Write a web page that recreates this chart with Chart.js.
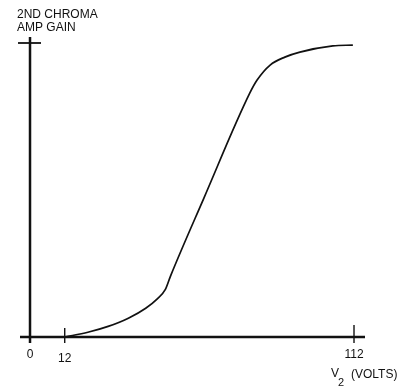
<!DOCTYPE html>
<html lang="en">
<head>
    <meta charset="UTF-8">
    <title>2nd Chroma Amp Gain</title>
    <style>
        body {
            margin: 0;
            padding: 0;
            background: #ffffff;
        }
        #wrap {
            width: 416px;
            height: 388px;
        }
    </style>
    <script src="https://cdn.jsdelivr.net/npm/chart.js"></script>
</head>
<body>
    <div id="wrap"><canvas id="gain-chart" width="416" height="388"></canvas></div>

    <script>
        // curve: V2 (volts) vs. gain (0..100 = axis top)
        const voltage = [12, 20, 27, 34, 40, 44, 46.8, 48.6, 60, 76.0, 78.5, 83.0, 88.1, 93.3, 104.7, 111.6];
        const gain = [0, 1.6, 3.6, 6.4, 9.8, 13.0, 16.2, 20.8, 47.0, 83.0, 87.4, 92.5, 95.2, 96.9, 99.0, 99.3];
        const xTicks = [0, 12, 112];
        const yTop = 100;

        const ink = '#111111';
        const font = '12px "Liberation Sans", Arial, sans-serif';

        // axes, tick marks and labels, drawn from the chart's own scales
        const axesPlugin = {
            id: 'axesPlugin',
            beforeDatasetsDraw(chart) {
                const ctx = chart.ctx;
                const x = chart.scales.x;
                const y = chart.scales.y;
                const area = chart.chartArea;
                const x0 = x.getPixelForValue(0);
                const y0 = y.getPixelForValue(0);

                ctx.save();
                ctx.strokeStyle = ink;
                ctx.lineCap = 'butt';

                // y axis
                ctx.lineWidth = 2.5;
                ctx.beginPath();
                ctx.moveTo(x0, area.top);
                ctx.lineTo(x0, area.bottom);
                ctx.stroke();

                // x axis
                ctx.beginPath();
                ctx.moveTo(area.left, y0);
                ctx.lineTo(area.right, y0);
                ctx.stroke();

                // crossbar at the top of y axis
                const yt = y.getPixelForValue(yTop);
                ctx.lineWidth = 1.8;
                ctx.beginPath();
                ctx.moveTo(x0 - 12, yt);
                ctx.lineTo(x0 + 11, yt);
                ctx.stroke();

                // tick marks on x axis
                ctx.lineWidth = 1.4;
                xTicks.forEach(function (v) {
                    if (v === 0) return;
                    const px = x.getPixelForValue(v);
                    ctx.beginPath();
                    ctx.moveTo(px, y0 - (v === 112 ? 12 : 9));
                    ctx.lineTo(px, y0 + 6);
                    ctx.stroke();
                });

                // tick labels
                ctx.fillStyle = ink;
                ctx.font = font;
                ctx.textAlign = 'center';
                ctx.textBaseline = 'alphabetic';
                xTicks.forEach(function (v) {
                    const px = x.getPixelForValue(v);
                    ctx.fillText(String(v), px, v === 12 ? 362 : 358);
                });

                // titles
                ctx.textAlign = 'left';
                ctx.fillText('2ND CHROMA', 17, 18);
                ctx.fillText('AMP GAIN', 17, 31);

                ctx.fillText('V', 331, 377);
                ctx.font = '11px "Liberation Sans", Arial, sans-serif';
                ctx.fillText('2', 338, 386);
                ctx.font = font;
                ctx.fillText('(VOLTS)', 351, 378);
                ctx.restore();
            }
        };

        new Chart(document.getElementById('gain-chart').getContext('2d'), {
            type: 'line',
            data: {
                datasets: [{
                    data: voltage.map(function (v, i) { return { x: v, y: gain[i] }; }),
                    borderColor: ink,
                    borderWidth: 1.7,
                    pointRadius: 0,
                    fill: false,
                    cubicInterpolationMode: 'monotone'
                }]
            },
            options: {
                responsive: false,
                animation: false,
                layout: {
                    padding: { left: 20, right: 51, top: 37, bottom: 45 }
                },
                scales: {
                    x: {
                        type: 'linear',
                        display: false,
                        min: -3.46,
                        max: 115.8
                    },
                    y: {
                        type: 'linear',
                        display: false,
                        min: -2.04,
                        max: 102.04
                    }
                },
                plugins: {
                    legend: { display: false },
                    tooltip: { enabled: false }
                }
            },
            plugins: [axesPlugin]
        });
    </script>
</body>
</html>
